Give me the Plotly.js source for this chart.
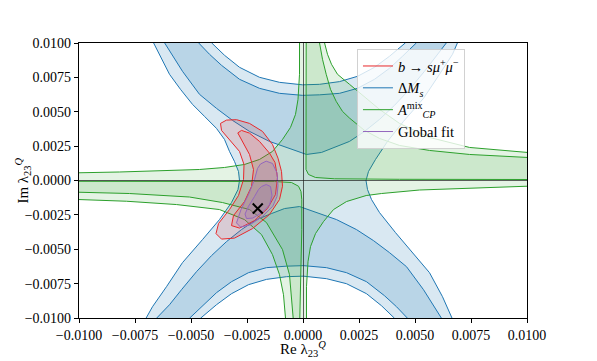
<!DOCTYPE html>
<html>
<head>
<meta charset="utf-8">
<script src="https://cdn.plot.ly/plotly-3.0.1.min.js"></script>
<style>
  html, body { margin: 0; padding: 0; background: white; }
  #chart { width: 597px; height: 361px; }
</style>
</head>
<body>
<div id="chart"></div>
<script>
// contour curves, [Re, Im] pairs

// Delta M_s : outer 2 sigma boundary (left and right side of the peanut)
const dmsOuterLeft = [[-0.006674,0.010018],[-0.006317,0.008816],[-0.00596,0.007723],[-0.005469,0.00663],[-0.004933,0.005537],[-0.004397,0.004663],[-0.003862,0.003789],[-0.003504,0.002987],[-0.003281,0.002113],[-0.003058,0.001384],[-0.00288,0.000656],[-0.002835,0],[-0.002902,-0.000656],[-0.003192,-0.001603],[-0.003728,-0.002842],[-0.004487,-0.004299],[-0.00538,-0.005974],[-0.006094,-0.007723],[-0.006719,-0.00918],[-0.007009,-0.010018]];
const dmsOuterRight = [[0.006897,0.010018],[0.006674,0.00918],[0.006094,0.007723],[0.00538,0.005974],[0.004487,0.004299],[0.003772,0.002842],[0.003237,0.00153],[0.002924,0.000656],[0.002813,0],[0.00288,-0.000656],[0.003058,-0.001384],[0.003415,-0.002332],[0.004129,-0.003789],[0.004888,-0.005246],[0.005647,-0.006703],[0.006228,-0.008452],[0.006656,-0.010018]];
// 1 sigma outer arches
const dms1sOuterTop = [[-0.006183,0.010018],[-0.00538,0.007942],[-0.00462,0.006266],[-0.003862,0.005246],[-0.003147,0.004372],[-0.002388,0.00357],[-0.001496,0.002842],[-0.000603,0.002332],[0.000156,0.001894],[0.000826,0.00204],[0.001406,0.002404],[0.002076,0.002842],[0.002746,0.00357],[0.003415,0.004444],[0.004085,0.005464],[0.004754,0.00663],[0.005424,0.007942],[0.00596,0.009035],[0.006406,0.010018]];
const dms1sOuterBot = [[-0.00654,-0.010018],[-0.00596,-0.009035],[-0.005424,-0.007942],[-0.004754,-0.00663],[-0.004085,-0.005464],[-0.003415,-0.004444],[-0.002746,-0.00357],[-0.002076,-0.002842],[-0.001406,-0.002404],[-0.000826,-0.00204],[-0.000156,-0.001894],[0.000603,-0.002332],[0.001496,-0.002842],[0.002388,-0.00357],[0.003147,-0.004372],[0.003862,-0.005246],[0.00462,-0.006266],[0.00538,-0.007942],[0.006183,-0.010018]];
// 1 sigma inner arches
const dms1sInnerTop = [[-0.004665,0.010018],[-0.004174,0.00918],[-0.003638,0.008379],[-0.002835,0.007359],[-0.001942,0.006703],[-0.001049,0.006339],[-0.00002,0.006193],[0.000737,0.00623],[0.00163,0.006339],[0.002433,0.006703],[0.003192,0.007359],[0.003862,0.00816],[0.004442,0.009035],[0.005067,0.010018]];
const dms1sInnerBot = [[-0.005067,-0.010018],[-0.004442,-0.009035],[-0.003862,-0.00816],[-0.003192,-0.007359],[-0.002433,-0.006703],[-0.00163,-0.006339],[-0.000737,-0.00623],[0.00002,-0.006193],[0.001049,-0.006339],[0.001942,-0.006703],[0.002835,-0.007359],[0.003638,-0.008379],[0.004174,-0.00918],[0.004665,-0.010018]];
// 2 sigma inner arches
const dms2sInnerTop = [[-0.004085,0.010018],[-0.003504,0.009107],[-0.002835,0.008233],[-0.001942,0.007505],[-0.001049,0.00714],[-0.00002,0.006958],[0.000737,0.006995],[0.00163,0.007191],[0.002433,0.007577],[0.003192,0.008233],[0.003862,0.009035],[0.004576,0.010018]];
const dms2sInnerBot = [[-0.004576,-0.010018],[-0.003862,-0.009035],[-0.003192,-0.008233],[-0.002433,-0.007577],[-0.00163,-0.007191],[-0.000737,-0.006995],[0.00002,-0.006958],[0.001049,-0.00714],[0.001942,-0.007505],[0.002835,-0.008233],[0.003504,-0.009107],[0.004085,-0.010018]];

// A_CP^mix branches
const acpA2 = [[-0.000156,0.010018],[-0.000156,0.007723],[-0.000223,0.005902],[-0.000335,0.004809],[-0.000558,0.003862],[-0.000915,0.002987],[-0.001362,0.002113],[-0.001942,0.00153],[-0.002612,0.001166],[-0.003504,0.000947],[-0.00462,0.000801],[-0.006406,0.000692],[-0.008192,0.000619],[-0.010022,0.000561]];
const acpA4 = [[0.010022,-0.000415],[0.007433,-0.000583],[0.005201,-0.000692],[0.003504,-0.000947],[0.002821,-0.001093],[0.001942,-0.00153],[0.001362,-0.002113],[0.000915,-0.002987],[0.000558,-0.003862],[0.000335,-0.004809],[0.000223,-0.005902],[0.000156,-0.007723],[0.000156,-0.010018]];
const acpB1 = [[0.000143,0.010018],[0.000134,0.004444],[0.000112,0.00153],[0.000134,0.000801],[0.000246,0.000437],[0.000558,0.000219],[0.001406,0.000124],[0.004308,0.000087],[0.010022,0.000073]];
const acpB3 = [[-0.010022,-0.000058],[-0.00462,-0.000051],[-0.001272,-0.000073],[-0.000513,-0.000146],[-0.000201,-0.000415],[-0.000089,-0.000801],[-0.000054,-0.001384],[-0.000054,-0.00357],[-0.000112,-0.007213],[-0.000143,-0.010018]];
const acpC1 = [[0.000737,0.010018],[0.000871,0.008816],[0.001036,0.007723],[0.001228,0.00663],[0.001482,0.005756],[0.001763,0.005027],[0.002076,0.004539],[0.002746,0.003643],[0.003415,0.00306],[0.004308,0.00255],[0.005647,0.002186],[0.007433,0.001894],[0.010022,0.001676]];
const acpC3 = [[-0.010022,-0.000852],[-0.007746,-0.000947],[-0.005067,-0.001202],[-0.003594,-0.001603],[-0.002388,-0.002113],[-0.00163,-0.00306],[-0.000915,-0.005027],[-0.000603,-0.006849],[-0.000438,-0.010018]];
const acpD1 = [[0.00096,0.010018],[0.001094,0.00918],[0.001272,0.008452],[0.00154,0.007723],[0.002076,0.006995],[0.002746,0.006047],[0.003415,0.005173],[0.004308,0.004153],[0.005647,0.003133],[0.007433,0.002404],[0.010022,0.00204]];
const acpD3 = [[-0.010022,-0.001384],[-0.00788,-0.001508],[-0.005647,-0.001749],[-0.003728,-0.002113],[-0.002612,-0.002842],[-0.001853,-0.003934],[-0.001362,-0.005392],[-0.001049,-0.006849],[-0.000871,-0.008306],[-0.000781,-0.010018]];

// b -> s mu mu
const bsmm2s = [[-0.003683,0.004153],[-0.003415,0.004393],[-0.002969,0.004423],[-0.002388,0.004153],[-0.001808,0.00357],[-0.001362,0.002623],[-0.001116,0.001625],[-0.00096,0.000656],[-0.000915,-0.000415],[-0.001049,-0.001384],[-0.001496,-0.002477],[-0.002254,-0.003497],[-0.003058,-0.004189],[-0.003638,-0.004262],[-0.003884,-0.003862],[-0.003772,-0.003133],[-0.003281,-0.002113],[-0.00288,-0.001093],[-0.002656,0.000073],[-0.002634,0.001166],[-0.002835,0.002113],[-0.003237,0.002914],[-0.003638,0.003643],[-0.003683,0.004153]];
const bsmm1s = [[-0.002911,0.003461],[-0.002746,0.003643],[-0.002388,0.003446],[-0.001942,0.002842],[-0.001496,0.001989],[-0.00125,0.001311],[-0.001138,0.000219],[-0.001228,-0.00102],[-0.001585,-0.00204],[-0.002165,-0.002914],[-0.002835,-0.003461],[-0.003192,-0.003279],[-0.003103,-0.00255],[-0.002612,-0.00153],[-0.002299,-0.000437],[-0.00221,0.000801],[-0.002388,0.001894],[-0.002701,0.002842],[-0.002911,0.003461]];

// global fit
const fit2s = [[-0.001897,0.001202],[-0.001643,0.001406],[-0.001362,0.001239],[-0.001161,0.000561],[-0.001116,-0.000364],[-0.001161,-0.001166],[-0.001348,-0.001872],[-0.001795,-0.002601],[-0.002388,-0.003242],[-0.00279,-0.003388],[-0.002969,-0.003082],[-0.002768,-0.002113],[-0.002433,-0.00102],[-0.002165,0.000073],[-0.002031,0.000874],[-0.001897,0.001202]];
const fit1s = [[-0.001853,-0.000437],[-0.001643,-0.000291],[-0.001451,-0.000437],[-0.001384,-0.001093],[-0.001496,-0.001785],[-0.001808,-0.002295],[-0.002241,-0.002732],[-0.002522,-0.002769],[-0.002589,-0.002441],[-0.002433,-0.001872],[-0.002165,-0.001166],[-0.001987,-0.000656],[-0.001853,-0.000437]];
const bestFitRe = [-0.00202];
const bestFitIm = [-0.00204];

const tickVals = [-0.01, -0.0075, -0.005, -0.0025, 0, 0.0025, 0.005, 0.0075, 0.01];
const tickText = ['\u22120.0100', '\u22120.0075', '\u22120.0050', '\u22120.0025', '0.0000', '0.0025', '0.0050', '0.0075', '0.0100'];

const C_BLUE = '#1f77b4', C_GREEN = '#2ca02c', C_RED = '#e8282b', C_PURPLE = '#9467bd';
const SERIF = 'Liberation Serif, serif';

function rev(c) { return c.slice().reverse(); }
function poly(parts, fill) {
    const pts = [].concat(...parts);
    return {
        x: pts.map(p => p[0]), y: pts.map(p => p[1]),
        type: 'scatter', mode: 'lines', fill: 'toself', fillcolor: fill,
        line: { width: 0 }, hoverinfo: 'skip', showlegend: false
    };
}
function curve(c, color, name, rank) {
    return {
        x: c.map(p => p[0]), y: c.map(p => p[1]),
        type: 'scatter', mode: 'lines', line: { color: color, width: 1 },
        hoverinfo: 'skip', name: name || '', showlegend: !!name, legendrank: rank || 1000
    };
}

const blueFill = 'rgba(31,119,180,0.17)';
const greenFill = 'rgba(44,160,44,0.13)';
const redFill = 'rgba(214,39,40,0.15)';
const purpleFill = 'rgba(148,103,189,0.18)';

const data = [
    // Delta M_s
    poly([dmsOuterLeft, dms2sInnerBot, rev(dmsOuterRight), rev(dms2sInnerTop)], blueFill),
    poly([dms1sOuterTop, rev(dms1sInnerTop)], blueFill),
    poly([dms1sOuterBot, rev(dms1sInnerBot)], blueFill),
    curve(dmsOuterLeft, C_BLUE, '\u0394<i>M</i><sub><i>s</i></sub>', 2),
    curve(dmsOuterRight, C_BLUE), curve(dms1sOuterTop, C_BLUE), curve(dms1sOuterBot, C_BLUE),
    curve(dms1sInnerTop, C_BLUE), curve(dms1sInnerBot, C_BLUE),
    curve(dms2sInnerTop, C_BLUE), curve(dms2sInnerBot, C_BLUE),
    // A_CP^mix
    poly([acpA2, acpD3, rev(acpA4), rev(acpD1)], greenFill),
    poly([acpB1, rev(acpC1)], greenFill),
    poly([acpB3, rev(acpC3)], greenFill),
    curve(acpA2, C_GREEN, '<i>A</i><sup>mix</sup><sub><i>CP</i></sub>', 3),
    curve(acpA4, C_GREEN), curve(acpB1, C_GREEN), curve(acpB3, C_GREEN),
    curve(acpC1, C_GREEN), curve(acpC3, C_GREEN), curve(acpD1, C_GREEN), curve(acpD3, C_GREEN),
    // b -> s mu mu
    poly([bsmm2s], redFill), poly([bsmm1s], redFill),
    curve(bsmm2s, C_RED, '<i>b</i> \u2192 <i>s\u03bc</i><sup>+</sup><i>\u03bc</i><sup>\u2212</sup>', 1),
    curve(bsmm1s, C_RED),
    // global fit
    poly([fit2s], purpleFill), poly([fit1s], purpleFill),
    curve(fit2s, C_PURPLE, 'Global fit', 4), curve(fit1s, C_PURPLE),
    {
        x: bestFitRe, y: bestFitIm, type: 'scatter', mode: 'markers',
        marker: { symbol: 'x-thin', size: 10, color: 'black', line: { width: 2, color: 'black' } },
        hoverinfo: 'skip', showlegend: false
    }
];

const axisCommon = {
    range: [-0.01, 0.01], tickvals: tickVals, ticktext: tickText,
    ticks: 'outside', ticklen: 4, tickwidth: 1, tickcolor: 'black',
    showline: true, linecolor: 'black', linewidth: 1.1, mirror: true,
    showgrid: false, zeroline: true, zerolinecolor: 'rgba(30,30,30,0.7)', zerolinewidth: 1,
    layer: 'above traces', zerolinelayer: 'above traces',
    tickfont: { family: SERIF, size: 14, color: 'black' }
};

const titleFont = { size: 15, family: SERIF, color: 'black' };

const layout = {
    width: 597, height: 361,
    margin: { l: 79, r: 70, t: 43, b: 43 },
    paper_bgcolor: 'white', plot_bgcolor: 'white',
    font: { family: SERIF, color: 'black' },
    xaxis: Object.assign({}, axisCommon),
    yaxis: Object.assign({}, axisCommon),
    annotations: [{
        text: 'Re \u03bb<sub>23</sub><sup><i>Q</i></sup>',
        xref: 'paper', yref: 'paper', x: 0.5, y: -0.157, xanchor: 'center', yanchor: 'bottom',
        showarrow: false, font: titleFont
    }, {
        text: 'Im \u03bb<sub>23</sub><sup><i>Q</i></sup>', textangle: -90,
        xref: 'paper', yref: 'paper', x: -0.127, y: 0.5, xanchor: 'center', yanchor: 'middle',
        showarrow: false, font: titleFont
    }],
    legend: {
        x: 0.6205, y: 0.978, xanchor: 'left', yanchor: 'top',
        bgcolor: 'rgba(255,255,255,0.8)', bordercolor: 'rgba(204,204,204,0.9)', borderwidth: 1,
        font: { family: SERIF, size: 14.5, color: 'black' },
        tracegroupgap: 0
    },
    showlegend: true
};

Plotly.newPlot('chart', data, layout, { displayModeBar: false, staticPlot: true });
</script>
</body>
</html>
